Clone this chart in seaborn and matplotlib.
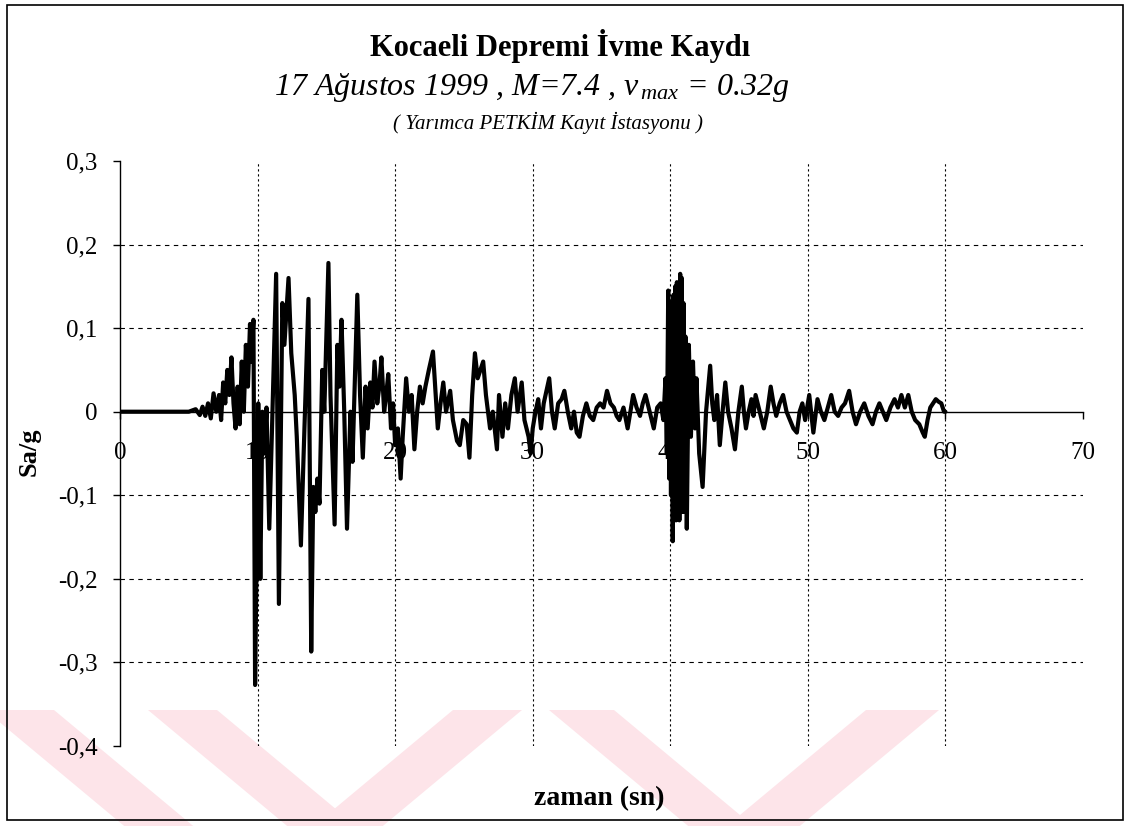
import matplotlib
matplotlib.use("Agg")
import matplotlib.pyplot as plt
import pandas as pd
import seaborn as sns
from matplotlib.patches import Polygon, Rectangle
from matplotlib.ticker import FixedLocator, FixedFormatter

# Kocaeli 17.08.1999, Yarimca PETKIM station: time (s) and acceleration (g)
time_s = [
    0.0, 5.0, 5.5, 5.8, 6.0, 6.2, 6.4, 6.6, 6.8, 7.0, 7.2, 7.35, 7.5, 7.65, 7.8, 7.95,
    8.1, 8.25, 8.4, 8.55, 8.7, 8.85, 9.0, 9.15, 9.3, 9.45, 9.55, 9.7, 9.82, 9.95,
    10.05, 10.2, 10.35, 10.5, 10.65, 10.85, 11.05, 11.35, 11.55, 11.8, 11.95, 12.25,
    12.45, 12.7, 12.85, 13.15, 13.35, 13.7, 13.9, 14.05, 14.2, 14.35, 14.5, 14.7,
    14.85, 15.15, 15.3, 15.6, 15.8, 15.95, 16.1, 16.3, 16.5, 16.75, 16.9, 17.25,
    17.45, 17.65, 17.85, 18.0, 18.2, 18.35, 18.5, 18.7, 18.85, 19.0, 19.2, 19.35,
    19.5, 19.7, 19.85, 20.0, 20.2, 20.4, 20.55, 20.8, 21.0, 21.2, 21.4, 21.6, 21.8,
    22.0, 22.2, 22.45, 22.75, 22.95, 23.1, 23.3, 23.5, 23.7, 24.0, 24.2, 24.5, 24.7,
    24.95, 25.2, 25.4, 25.6, 25.8, 26.0, 26.2, 26.4, 26.6, 26.9, 27.1, 27.4, 27.55,
    27.8, 28.0, 28.2, 28.45, 28.7, 28.9, 29.2, 29.4, 29.7, 29.85, 30.0, 30.2, 30.4,
    30.6, 30.8, 31.0, 31.2, 31.4, 31.6, 31.85, 32.1, 32.3, 32.55, 32.8, 33.0, 33.2,
    33.4, 33.65, 33.9, 34.15, 34.4, 34.65, 34.9, 35.15, 35.4, 35.65, 35.9, 36.1,
    36.3, 36.6, 36.9, 37.1, 37.3, 37.55, 37.8, 38.0, 38.2, 38.5, 38.8, 39.05, 39.3,
    39.5,
    39.65, 39.75, 39.85, 39.92, 39.98, 40.05, 40.12, 40.18, 40.24, 40.30, 40.36, 40.42,
    40.48, 40.54, 40.60, 40.66, 40.72, 40.78, 40.84, 40.90, 40.96, 41.02, 41.10, 41.20,
    41.35, 41.5, 41.65, 41.8, 41.9, 42.1, 42.35, 42.6, 42.9, 43.05, 43.2, 43.4,
    43.6, 43.8, 44.0, 44.2, 44.45, 44.7, 44.95, 45.2, 45.35, 45.5, 45.7, 45.9, 46.05,
    46.2, 46.5, 46.8, 47.05, 47.3, 47.5, 47.7, 47.95, 48.2, 48.45, 48.7, 48.95, 49.2,
    49.4, 49.6, 49.8, 50.1, 50.4, 50.7, 50.95, 51.2, 51.45, 51.7, 51.95, 52.2, 52.45,
    52.7, 53.0, 53.25, 53.5, 53.8, 54.1, 54.4, 54.7, 54.95, 55.2, 55.45, 55.7, 56.0,
    56.3, 56.55, 56.8, 57.05, 57.3, 57.55, 57.8, 58.1, 58.35, 58.5, 58.7, 58.9, 59.1,
    59.3, 59.5, 59.7, 59.9, 60.0,
]
accel_g = [
    0.0, 0.0, 0.003, -0.004, 0.006, -0.005, 0.01, -0.008, 0.022, 0.0, 0.02, -0.01,
    0.035, 0.01, 0.05, 0.02, 0.065, 0.01, -0.02, 0.03, -0.015, 0.06, 0.0, 0.08, 0.03,
    0.105, 0.06, 0.11, -0.327, -0.15, 0.01, -0.2, 0.0, -0.05, 0.005, -0.14, -0.02,
    0.165, -0.23, 0.13, 0.08, 0.16, 0.07, 0.02, -0.03, -0.16, -0.05, 0.135, -0.287,
    -0.09, -0.12, -0.08, -0.11, 0.05, 0.0, 0.178, 0.02, -0.135, 0.08, 0.03, 0.11, 0.0,
    -0.14, 0.0, -0.06, 0.14, 0.02, -0.055, 0.03, -0.02, 0.035, 0.005, 0.06, 0.01, 0.03,
    0.065, 0.0, 0.02, 0.045, -0.02, 0.01, -0.04, -0.02, -0.08, -0.03, 0.04, 0.0, 0.02,
    -0.045, 0.0, 0.03, 0.01, 0.03, 0.05, 0.072, 0.02, -0.02, 0.01, 0.035, 0.0, 0.025,
    -0.01, -0.035, -0.04, -0.01, -0.015, -0.055, 0.02, 0.07, 0.04, 0.05, 0.06, 0.02,
    -0.02, 0.0, -0.045, 0.02, -0.03, 0.01, -0.02, 0.02, 0.04, 0.0, 0.035, -0.01, -0.03,
    -0.05, -0.02, 0.0, 0.015, -0.02, 0.01, 0.025, 0.04, 0.0, -0.02, 0.01, 0.015, 0.025,
    0.0, -0.02, 0.0, -0.025, -0.03, -0.005, 0.01, -0.005, -0.01, 0.005, 0.01, 0.005,
    0.025, 0.01, 0.005, -0.005, -0.01, 0.005, -0.02, 0.0, 0.02, 0.005, -0.005, 0.01,
    0.02, 0.0, -0.02, 0.005, 0.01,
    -0.01,
    0.04, -0.05, 0.145, -0.08, 0.13, -0.1, 0.12, -0.155, 0.14, -0.12, 0.15, -0.13,
    0.155, -0.1, 0.15, -0.13, 0.165, -0.11, 0.16, -0.12, 0.13, -0.12, 0.09, -0.14,
    0.08, -0.03, 0.06, -0.02, 0.04, -0.05, -0.09, 0.0, 0.055, 0.01, -0.01, 0.02,
    -0.04, 0.0, 0.035, 0.0, -0.02, -0.045, 0.0, 0.03, 0.0, -0.02, 0.0, 0.015, -0.005,
    0.02, 0.0, -0.02, 0.0, 0.03, 0.01, -0.005, 0.01, 0.02, 0.0, -0.01, -0.02, -0.025,
    0.0, 0.01, -0.01, 0.02, -0.025, 0.015, 0.0, -0.01, 0.005, 0.02, 0.0, -0.005,
    0.005, 0.01, 0.025, 0.0, -0.015, 0.0, 0.01, -0.005, -0.015, 0.0, 0.01, 0.0, -0.01,
    0.005, 0.015, 0.005, 0.02, 0.005, 0.02, 0.0, -0.01, -0.015, -0.025, -0.03, -0.01,
    0.005, 0.01, 0.015, 0.012, 0.01, 0.0, 0.0,
]

x_ticks = [0, 10, 20, 30, 40, 50, 60, 70]
x_tick_labels = ["0", "10", "20", "30", "40", "50", "60", "70"]
y_ticks = [-0.4, -0.3, -0.2, -0.1, 0.0, 0.1, 0.2, 0.3]
y_tick_labels = ["-0,4", "-0,3", "-0,2", "-0,1", "0", "0,1", "0,2", "0,3"]
h_grid = [-0.3, -0.2, -0.1, 0.1, 0.2]
v_grid = [10, 20, 30, 40, 50, 60]

n = min(len(time_s), len(accel_g))
record = pd.DataFrame({"zaman": time_s[:n], "ivme": accel_g[:n]})

sns.set_theme(style="white")
plt.rcParams["font.family"] = ["Liberation Serif", "DejaVu Serif"]
plt.rcParams["mathtext.fontset"] = "custom"
plt.rcParams["mathtext.rm"] = "Liberation Serif"
plt.rcParams["mathtext.it"] = "Liberation Serif:italic"

W, H = 1128, 826
fig = plt.figure(figsize=(W / 100, H / 100), dpi=100)


def fx(px):
    return px / W


def fy(py):
    return 1 - py / H


# faint thesis-archive chevrons along the bottom edge
pink = "#fde4e9"
slope = 1.2
for top_left, top_right, sign in [(-15, 54, 1), (148, 217, 1), (453, 522, -1),
                                  (549, 614, 1), (866, 939, -1)]:
    y0, y1 = 710, 830
    d = (y1 - y0) * slope * sign
    pts = [(top_left, y0), (top_right, y0), (top_right + d, y1), (top_left + d, y1)]
    fig.add_artist(Polygon([(fx(a), fy(b)) for a, b in pts], closed=True,
                           transform=fig.transFigure, facecolor=pink,
                           edgecolor="none", zorder=0))

ax = fig.add_axes([fx(120), fy(746), fx(1083) - fx(120), fy(161) - fy(746)])
ax.set_facecolor("none")

ax.hlines(h_grid, 0, 70, colors="black", linewidth=0.8, linestyles=(0, (4, 4)), zorder=1)
ax.vlines(v_grid, -0.4, 0.3, colors="black", linewidth=0.8, linestyles=(0, (2, 2.5)), zorder=1)

sns.lineplot(data=record, x="zaman", y="ivme", ax=ax, color="black", linewidth=3.0,
             estimator=None, sort=False, zorder=3)

ax.set_xlim(0, 70)
ax.set_ylim(-0.4, 0.3)
ax.set_xlabel("")
ax.set_ylabel("")

for side in ["top", "right"]:
    ax.spines[side].set_visible(False)
ax.spines["left"].set_position(("data", 0))
ax.spines["bottom"].set_position(("data", 0))
for side in ["left", "bottom"]:
    ax.spines[side].set_color("black")
    ax.spines[side].set_linewidth(1.0)
    ax.spines[side].set_zorder(2)

ax.xaxis.set_major_locator(FixedLocator(x_ticks))
ax.xaxis.set_major_formatter(FixedFormatter(x_tick_labels))
ax.yaxis.set_major_locator(FixedLocator(y_ticks))
ax.yaxis.set_major_formatter(FixedFormatter(y_tick_labels))
ax.tick_params(axis="x", direction="out", length=5, width=1, color="black",
               pad=17, labelsize=18, labelcolor="black", bottom=True)
ax.tick_params(axis="y", direction="out", length=5, width=1, color="black",
               pad=11, labelsize=18, labelcolor="black", left=True)
ax.grid(False)

fig.text(fx(560), fy(46), "Kocaeli Depremi İvme Kaydı", ha="center", va="center",
         fontsize=22, fontweight="bold", color="black")
fig.text(fx(532), fy(88), r"17 Ağustos 1999 , M=7.4 , $v_{\,max}$ = 0.32g",
         ha="center", va="center", fontsize=23, fontstyle="italic", color="black")
fig.text(fx(548), fy(123), "( Yarımca PETKİM Kayıt İstasyonu )", ha="center",
         va="center", fontsize=15, fontstyle="italic", color="black")
fig.text(fx(29), fy(452), "Sa/g", rotation=90, ha="center", va="center",
         fontsize=19, fontweight="bold", color="black")
fig.text(fx(599), fy(799), "zaman (sn)", ha="center", va="center",
         fontsize=20, fontweight="bold", color="black")

fig.add_artist(Rectangle((fx(7), fy(820)), fx(1123) - fx(7), fy(5) - fy(820),
                         transform=fig.transFigure, fill=False, edgecolor="black",
                         linewidth=1.2, zorder=5))

fig.savefig("out.png", dpi=100)
